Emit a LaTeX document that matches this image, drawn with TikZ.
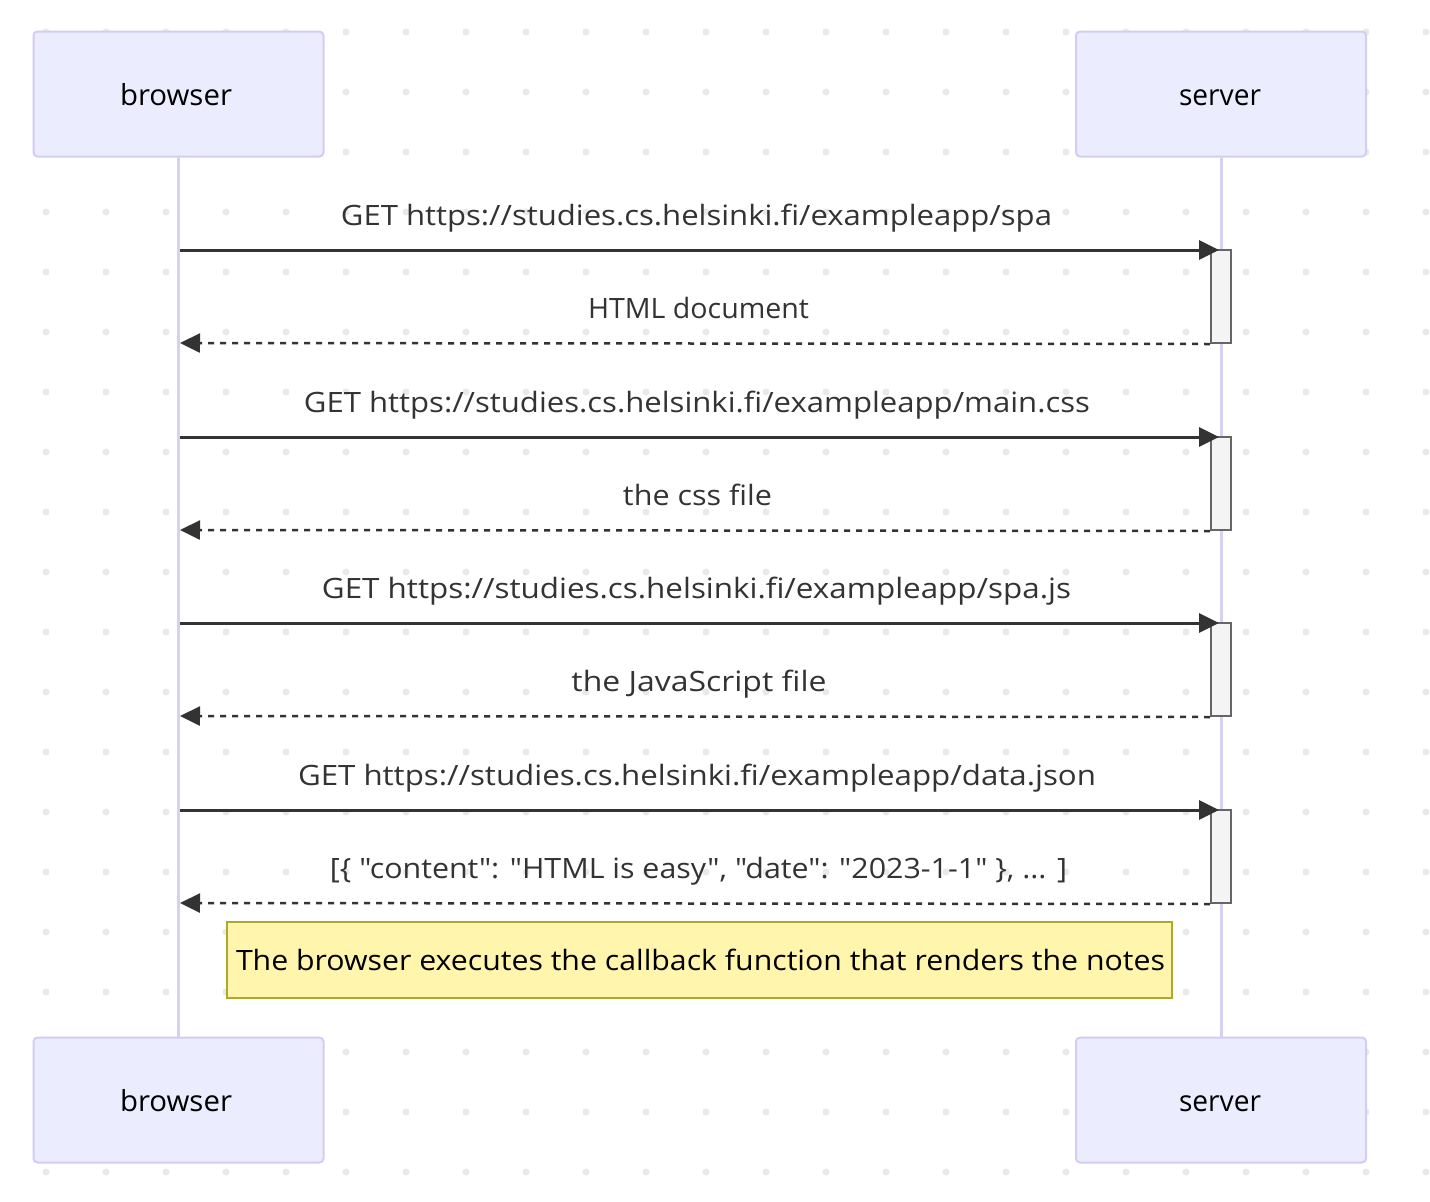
\documentclass[tikz,border=0pt]{standalone}
\usepackage{fontspec}
\usepackage{graphicx}
\newfontfamily\osans{Open Sans}[Ligatures=NoCommon]
\usetikzlibrary{arrows.meta}
\definecolor{actfill}{HTML}{ECECFF}
\definecolor{actline}{HTML}{D4CDF2}
\definecolor{lifeline}{HTML}{D6D0F2}
\definecolor{dotcol}{HTML}{E9E9E9}
\definecolor{msgcol}{HTML}{333333}
\definecolor{actvfill}{HTML}{F4F4F4}
\definecolor{actvline}{HTML}{666666}
\definecolor{notefill}{HTML}{FFF5AD}
\definecolor{noteline}{HTML}{AAAA33}
\newcommand\fitw[2]{\resizebox{#1pt}{\height}{#2}}
\newcommand\dq{\symbol{34}}
\tikzset{
  actor/.style={draw=actline, line width=2pt, fill=actfill, rounded corners=4pt,
    minimum width=290pt, minimum height=125pt, inner sep=0pt},
  actortext/.style={anchor=base, inner sep=0pt, text=black, font=\osans\fontsize{29}{34}\selectfont},
  lifel/.style={draw=lifeline, line width=3pt},
  actv/.style={draw=actvline, line width=2pt, fill=actvfill, minimum width=20pt, minimum height=93pt, inner sep=0pt},
  req/.style={draw=msgcol, line width=3pt, -{Triangle[length=20pt,width=19pt]}},
  resp/.style={draw=msgcol, line width=2.5pt, dash pattern=on 6pt off 6pt, -{Triangle[length=20pt,width=19pt]}},
  lbl/.style={anchor=base, text=msgcol, inner sep=0pt, font=\osans\fontsize{28}{33}\selectfont},
  note/.style={draw=noteline, line width=2pt, fill=notefill, minimum width=945pt, minimum height=76pt, inner sep=0pt},
  notetext/.style={anchor=base, inner sep=0pt, text=black, font=\osans\fontsize{28}{33}\selectfont},
}
\begin{document}
\begin{tikzpicture}[x=1pt,y=-1pt]
\useasboundingbox (0,0) rectangle (1430,1202);
\fill[white] (0,0) rectangle (1430,1202);
% dot grid
\foreach \i in {0,...,23}{
  \foreach \j in {0,...,19}{
    \fill[dotcol] (46+60*\i,32+60*\j) circle (3.5pt);
  }
}
% actors
\node[actor] (bt) at (178.5,94) {};
\node[actor] (st) at (1221,94) {};
\node[actor] (bb) at (178.5,1100) {};
\node[actor] (sb) at (1221,1100) {};
\node[actortext] (btt) at (176,105) {\fitw{112}{browser}};
\node[actortext] (stt) at (1220,105) {\fitw{82}{server}};
\node[actortext] (bbt) at (176,1111) {\fitw{112}{browser}};
\node[actortext] (sbt) at (1220,1111) {\fitw{82}{server}};
% lifelines
\draw[lifel] (bt.south) -- (bb.north);
\draw[lifel] (st.south) -- (sb.north);
% activations
\node[actv] (a1) at (1221,296.5) {};
\node[actv] (a2) at (1221,483.5) {};
\node[actv] (a3) at (1221,669.5) {};
\node[actv] (a4) at (1221,856.5) {};
% lifeline points
\coordinate (b1) at (180,250);  \coordinate (s1) at (1219,250);
\coordinate (b2) at (180,343);
\coordinate (b3) at (180,437);  \coordinate (s3) at (1219,437);
\coordinate (b4) at (180,530);
\coordinate (b5) at (180,623);  \coordinate (s5) at (1219,623);
\coordinate (b6) at (180,716);
\coordinate (b7) at (180,810);  \coordinate (s7) at (1219,810);
\coordinate (b8) at (180,903);
% messages
\draw[req] (b1) -- (s1);
\draw[resp] (a1.south west) -- (b2);
\draw[req] (b3) -- (s3);
\draw[resp] (a2.south west) -- (b4);
\draw[req] (b5) -- (s5);
\draw[resp] (a3.south west) -- (b6);
\draw[req] (b7) -- (s7);
\draw[resp] (a4.south west) -- (b8);
% labels
\node[lbl] (l1) at (696.5,225) {\fitw{711}{GET https://studies.cs.helsinki.fi/exampleapp/spa}};
\node[lbl] (l2) at (698.5,318) {\fitw{221}{HTML document}};
\node[lbl] (l3) at (697,412) {\fitw{786}{GET https://studies.cs.helsinki.fi/exampleapp/main.css}};
\node[lbl] (l4) at (697.5,505) {\fitw{149}{the css file}};
\node[lbl] (l5) at (696.5,598) {\fitw{749}{GET https://studies.cs.helsinki.fi/exampleapp/spa.js}};
\node[lbl] (l6) at (699,691) {\fitw{255}{the JavaScript file}};
\node[lbl] (l7) at (697,785) {\fitw{798}{GET https://studies.cs.helsinki.fi/exampleapp/data.json}};
\node[lbl] (l8) at (698.5,878) {\fitw{737}{[\{ \dq content\dq: \dq HTML is easy\dq, \dq date\dq: \dq 2023-1-1\dq\ \}, ... ]}};
% note
\node[note] (n) at (699.5,960) {};
\node[notetext] (nt) at (700.5,970) {\fitw{929}{The browser executes the callback function that renders the notes}};
\end{tikzpicture}
\end{document}
